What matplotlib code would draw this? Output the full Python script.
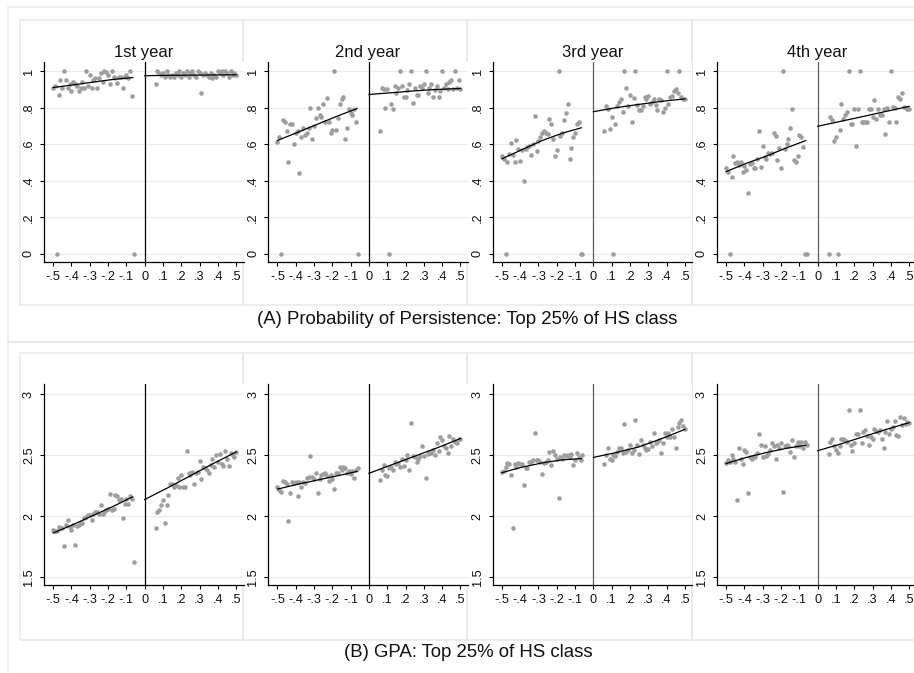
import matplotlib
matplotlib.use("Agg")
import matplotlib.pyplot as plt
from matplotlib.patches import Rectangle

plt.rcParams['font.family'] = ['Liberation Sans', 'DejaVu Sans']

# ---------------------------------------------------------------- data
# bin centres of the running variable (distance from the cutoff)
BINS_BELOW = [-0.50, -0.49, -0.48, -0.47, -0.46, -0.45, -0.44, -0.43, -0.42,
              -0.41, -0.40, -0.39, -0.38, -0.37, -0.36, -0.35, -0.34, -0.33,
              -0.32, -0.31, -0.30, -0.29, -0.28, -0.27, -0.26, -0.25, -0.24,
              -0.23, -0.22, -0.21, -0.20, -0.19, -0.18, -0.17, -0.16, -0.15,
              -0.14, -0.13, -0.12, -0.11, -0.10, -0.09, -0.08, -0.07, -0.06]
BINS_ABOVE = [0.06, 0.07, 0.08, 0.09, 0.10, 0.11, 0.12, 0.13, 0.14, 0.15,
              0.16, 0.17, 0.18, 0.19, 0.20, 0.21, 0.22, 0.23, 0.24, 0.25,
              0.26, 0.27, 0.28, 0.29, 0.30, 0.31, 0.32, 0.33, 0.34, 0.35,
              0.36, 0.37, 0.38, 0.39, 0.40, 0.41, 0.42, 0.43, 0.44, 0.45,
              0.46, 0.47, 0.48, 0.49, 0.50]

# grid on which the fitted curves are reported
FIT_X_BELOW = [-0.50, -0.39, -0.28, -0.17, -0.065]
FIT_X_ABOVE = [0.0, 0.125, 0.25, 0.375, 0.5]

YEARS = ["1st year", "2nd year", "3rd year", "4th year"]

# (A) probability of persistence, bin means
persist_y1_below = [0.91, 0.92, 0.00, 0.87, 0.95, 0.91, 1.00, 0.95, 0.91, 0.93,
                    0.89, 0.94, 0.93, 0.92, 0.89, 0.91, 0.94, 0.91, 1.00, 0.92,
                    0.98, 0.91, 0.95, 0.965, 0.905, 0.965, 0.99, 0.94, 1.00, 0.995,
                    0.98, 0.93, 1.00, 0.97, 0.96, 0.935, 0.97, 0.97, 0.91, 0.97,
                    0.98, 0.96, 1.00, 0.865, 0.00]
persist_y1_above = [0.93, 1.00, 0.99, 0.98, 0.99, 0.97, 1.00, 0.98, 0.97, 0.98,
                    0.97, 0.99, 0.98, 1.00, 0.97, 0.99, 0.98, 1.00, 0.97, 0.99,
                    1.00, 0.98, 0.97, 1.00, 0.99, 0.88, 0.98, 0.99, 0.98, 0.97,
                    0.99, 0.96, 0.98, 0.97, 1.00, 0.99, 1.00, 0.98, 1.00, 0.99,
                    0.97, 1.00, 0.98, 0.99, 0.98]
persist_y2_below = [0.61, 0.64, 0.00, 0.73, 0.72, 0.67, 0.50, 0.71, 0.71, 0.60,
                    0.66, 0.67, 0.44, 0.64, 0.69, 0.65, 0.66, 0.69, 0.80, 0.63,
                    0.70, 0.745, 0.80, 0.76, 0.75, 0.82, 0.72, 0.855, 0.72, 0.66,
                    0.68, 1.00, 0.68, 0.745, 0.82, 0.85, 0.86, 0.63, 0.69, 0.79,
                    0.77, 0.76, 0.79, 0.72, 0.00]
persist_y2_above = [0.67, 0.91, 0.90, 0.80, 0.90, 0.00, 0.82, 0.795, 0.92, 0.88,
                    0.91, 1.00, 0.92, 0.86, 0.86, 0.895, 0.93, 1.00, 0.825, 0.91,
                    0.87, 0.87, 0.92, 0.91, 0.93, 1.00, 0.88, 0.905, 0.93, 0.86,
                    0.895, 0.92, 0.86, 0.89, 1.00, 0.91, 0.93, 0.90, 0.94, 0.95,
                    0.90, 1.00, 0.91, 0.95, 0.90]
persist_y3_below = [0.535, 0.52, 0.00, 0.50, 0.545, 0.605, 0.54, 0.50, 0.625, 0.575,
                    0.51, 0.57, 0.40, 0.575, 0.585, 0.59, 0.54, 0.60, 0.755, 0.565,
                    0.615, 0.64, 0.66, 0.67, 0.66, 0.655, 0.74, 0.71, 0.63, 0.535,
                    0.57, 1.00, 0.645, 0.66, 0.735, 0.77, 0.82, 0.52, 0.58, 0.64,
                    0.66, 0.71, 0.72, 0.00, 0.00]
persist_y3_above = [0.67, 0.81, 0.795, 0.685, 0.75, 0.00, 0.71, 0.81, 0.83, 0.845,
                    0.775, 1.00, 0.905, 0.81, 0.87, 0.72, 0.855, 1.00, 0.815, 0.785,
                    0.785, 0.81, 0.86, 0.85, 0.865, 0.82, 0.83, 0.845, 0.815, 0.785,
                    0.845, 0.84, 0.775, 0.80, 1.00, 0.82, 0.86, 0.865, 0.89, 0.90,
                    0.88, 1.00, 0.86, 0.85, 0.845]
persist_y4_below = [0.467, 0.45, 0.00, 0.42, 0.535, 0.495, 0.505, 0.485, 0.50, 0.45,
                    0.48, 0.46, 0.335, 0.49, 0.495, 0.467, 0.467, 0.52, 0.67, 0.476,
                    0.59, 0.53, 0.52, 0.55, 0.545, 0.553, 0.66, 0.645, 0.515, 0.58,
                    0.467, 1.00, 0.573, 0.60, 0.63, 0.69, 0.79, 0.515, 0.50, 0.535,
                    0.65, 0.64, 0.585, 0.00, 0.00]
persist_y4_above = [0.00, 0.75, 0.73, 0.62, 0.64, 0.00, 0.676, 0.82, 0.74, 0.76,
                    0.776, 1.00, 0.713, 0.713, 0.79, 0.59, 0.79, 1.00, 0.72, 0.72,
                    0.72, 0.72, 0.795, 0.795, 0.75, 0.84, 0.74, 0.795, 0.76, 0.76,
                    0.79, 0.655, 0.80, 0.72, 1.00, 0.805, 0.80, 0.72, 0.86, 0.85,
                    0.88, 0.805, 0.80, 0.795, 0.79]

# (B) GPA, bin means
gpa_y1_below = [1.885, 1.88, 1.88, 1.91, 1.90, 1.90, 1.75, 1.93, 1.965, 1.91,
                1.885, 1.925, 1.76, 1.915, 1.93, 1.94, 1.94, 1.98, 1.99, 2.005,
                2.005, 1.965, 2.02, 2.035, 2.03, 2.02, 2.09, 2.02, 2.035, 2.05,
                2.06, 2.18, 2.05, 2.06, 2.17, 2.16, 2.13, 2.14, 1.98, 2.10,
                2.14, 2.10, 2.16, 2.14, 1.62]
gpa_y1_above = [1.90, 2.035, 2.05, 2.09, 2.13, 1.94, 2.09, 2.17, 2.265, 2.265,
                2.24, 2.25, 2.31, 2.24, 2.335, 2.24, 2.24, 2.53, 2.35, 2.335,
                2.36, 2.265, 2.35, 2.36, 2.45, 2.30, 2.40, 2.39, 2.375, 2.35,
                2.415, 2.47, 2.40, 2.50, 2.445, 2.51, 2.43, 2.41, 2.535, 2.47,
                2.41, 2.52, 2.50, 2.48, 2.525]
gpa_y2_below = [2.24, 2.21, 2.20, 2.29, 2.28, 2.26, 1.96, 2.19, 2.28, 2.27,
                2.28, 2.16, 2.28, 2.24, 2.28, 2.27, 2.31, 2.32, 2.49, 2.32,
                2.30, 2.355, 2.19, 2.30, 2.335, 2.345, 2.35, 2.33, 2.29, 2.335,
                2.30, 2.22, 2.35, 2.355, 2.40, 2.375, 2.40, 2.39, 2.35, 2.365,
                2.345, 2.37, 2.31, 2.375, 2.39]
gpa_y2_above = [2.295, 2.375, 2.415, 2.335, 2.33, 2.39, 2.40, 2.38, 2.445, 2.43,
                2.435, 2.405, 2.47, 2.41, 2.46, 2.50, 2.375, 2.76, 2.49, 2.485,
                2.445, 2.47, 2.49, 2.57, 2.49, 2.31, 2.51, 2.52, 2.515, 2.54,
                2.50, 2.60, 2.535, 2.65, 2.62, 2.57, 2.555, 2.515, 2.655, 2.57,
                2.63, 2.61, 2.60, 2.635, 2.635]
gpa_y3_below = [2.36, 2.37, 2.40, 2.435, 2.425, 2.335, 1.90, 2.43, 2.40, 2.435,
                2.43, 2.43, 2.25, 2.39, 2.39, 2.445, 2.445, 2.46, 2.68, 2.46,
                2.455, 2.445, 2.345, 2.435, 2.445, 2.455, 2.525, 2.415, 2.535, 2.50,
                2.47, 2.15, 2.485, 2.47, 2.50, 2.49, 2.50, 2.485, 2.51, 2.415,
                2.46, 2.52, 2.485, 2.46, 2.50]
gpa_y3_above = [2.43, 2.50, 2.555, 2.47, 2.455, 2.50, 2.49, 2.525, 2.555, 2.56,
                2.52, 2.75, 2.525, 2.54, 2.58, 2.52, 2.54, 2.785, 2.58, 2.51,
                2.62, 2.58, 2.56, 2.54, 2.545, 2.61, 2.575, 2.68, 2.595, 2.61,
                2.62, 2.52, 2.60, 2.68, 2.65, 2.68, 2.645, 2.71, 2.645, 2.56,
                2.73, 2.76, 2.785, 2.74, 2.71]
gpa_y4_below = [2.435, 2.46, 2.44, 2.50, 2.47, 2.445, 2.13, 2.56, 2.465, 2.43,
                2.54, 2.525, 2.19, 2.485, 2.47, 2.49, 2.485, 2.52, 2.67, 2.58,
                2.485, 2.57, 2.49, 2.51, 2.54, 2.60, 2.575, 2.465, 2.58, 2.555,
                2.60, 2.20, 2.57, 2.58, 2.57, 2.525, 2.62, 2.485, 2.57, 2.61,
                2.57, 2.61, 2.56, 2.61, 2.58]
gpa_y4_above = [2.51, 2.61, 2.63, 2.57, 2.54, 2.515, 2.57, 2.635, 2.635, 2.62,
                2.61, 2.865, 2.58, 2.535, 2.60, 2.67, 2.675, 2.87, 2.60, 2.69,
                2.705, 2.655, 2.58, 2.65, 2.635, 2.71, 2.70, 2.69, 2.705, 2.635,
                2.56, 2.69, 2.78, 2.675, 2.71, 2.73, 2.775, 2.665, 2.655, 2.81,
                2.745, 2.80, 2.75, 2.77, 2.765]

# fitted curves on each side of the cutoff
fit_persist_below = [[0.91, 0.925, 0.94, 0.955, 0.965],
                     [0.62, 0.665, 0.71, 0.755, 0.795],
                     [0.52, 0.57, 0.62, 0.66, 0.69],
                     [0.45, 0.495, 0.535, 0.58, 0.62]]
fit_persist_above = [[0.975, 0.977, 0.978, 0.979, 0.98],
                     [0.872, 0.882, 0.892, 0.90, 0.905],
                     [0.778, 0.80, 0.818, 0.835, 0.848],
                     [0.698, 0.725, 0.752, 0.78, 0.807]]
fit_gpa_below = [[1.86, 1.93, 2.005, 2.08, 2.157],
                 [2.22, 2.26, 2.295, 2.33, 2.365],
                 [2.355, 2.40, 2.435, 2.46, 2.47],
                 [2.43, 2.48, 2.52, 2.555, 2.58]]
fit_gpa_above = [[2.135, 2.23, 2.33, 2.43, 2.525],
                 [2.35, 2.42, 2.49, 2.56, 2.635],
                 [2.48, 2.52, 2.567, 2.635, 2.71],
                 [2.535, 2.59, 2.65, 2.71, 2.765]]

X_TICKS = [-0.5, -0.4, -0.3, -0.2, -0.1, 0.0, 0.1, 0.2, 0.3, 0.4, 0.5]
X_TICKLABELS = ["-.5", "-.4", "-.3", "-.2", "-.1", "0", ".1", ".2", ".3", ".4", ".5"]
PERSIST_TICKS = [0, 0.2, 0.4, 0.6, 0.8, 1.0]
PERSIST_TICKLABELS = ["0", ".2", ".4", ".6", ".8", "1"]
GPA_TICKS = [1.5, 2.0, 2.5, 3.0]
GPA_TICKLABELS = ["1.5", "2", "2.5", "3"]

CAPTION_A = "(A) Probability of Persistence: Top 25% of HS class"
CAPTION_B = "(B) GPA: Top 25% of HS class"

persist_below = [persist_y1_below, persist_y2_below, persist_y3_below, persist_y4_below]
persist_above = [persist_y1_above, persist_y2_above, persist_y3_above, persist_y4_above]
gpa_below = [gpa_y1_below, gpa_y2_below, gpa_y3_below, gpa_y4_below]
gpa_above = [gpa_y1_above, gpa_y2_above, gpa_y3_above, gpa_y4_above]

# ---------------------------------------------------------------- layout
W, H = 914, 673
fig = plt.figure(figsize=(W / 100, H / 100), dpi=100)
fig.patch.set_facecolor("white")

FRAME = "#e3ebef"
MARKER = "#9e9e9e"
CUT_COLORS = ["black", "black", "#5c5c5c", "#5c5c5c"]


def box(x0, y0, x1, y1):
    """Light outline given in pixel coordinates (origin top-left)."""
    fig.add_artist(Rectangle((x0 / W, 1 - y1 / H), (x1 - x0) / W, (y1 - y0) / H,
                             transform=fig.transFigure, fill=False,
                             ec=FRAME, lw=1.1, zorder=0))


# outer frames of the two blocks and the individual panel frames
box(8, 7, 940, 342)
box(8, 342, 940, 700)
panel_edges = [20, 242.5, 467, 692, 916]
for i in range(4):
    box(panel_edges[i], 20, panel_edges[i + 1], 305)
    box(panel_edges[i], 353, panel_edges[i + 1], 640)

AX_LEFT = [44, 268.3, 492.7, 717]
AX_W = 199.5


def make_axes(i, top, bottom):
    return fig.add_axes([AX_LEFT[i] / W, 1 - bottom / H, AX_W / W, (bottom - top) / H])


def style(ax, yticks, ylabels, ylim, cut_color):
    ax.set_xlim(-0.55, 0.54)
    ax.set_ylim(*ylim)
    ax.set_xticks(X_TICKS)
    ax.set_xticklabels(X_TICKLABELS)
    ax.set_yticks(yticks)
    ax.set_yticklabels(ylabels, rotation=90, va="center")
    for s in ("top", "right"):
        ax.spines[s].set_visible(False)
    for s in ("left", "bottom"):
        ax.spines[s].set_linewidth(0.9)
        ax.spines[s].set_color("black")
    ax.tick_params(direction="out", length=3, width=0.8, labelsize=9.2,
                   pad=3.5, colors="black", labelcolor="#111111")
    ax.grid(axis="y", color="#e4eef0", lw=0.9)
    ax.set_axisbelow(True)
    ax.axvline(0, color=cut_color, lw=0.9, zorder=2)


for i in range(4):
    # top block: persistence
    ax = make_axes(i, 62, 262)
    style(ax, PERSIST_TICKS, PERSIST_TICKLABELS, (-0.045, 1.05), CUT_COLORS[i])
    ax.plot(BINS_BELOW, persist_below[i], "o", ms=3.3, color=MARKER, mew=0, zorder=3)
    ax.plot(BINS_ABOVE, persist_above[i], "o", ms=3.3, color=MARKER, mew=0, zorder=3)
    ax.plot(FIT_X_BELOW, fit_persist_below[i], color="black", lw=0.9, zorder=4)
    ax.plot(FIT_X_ABOVE, fit_persist_above[i], color="black", lw=0.9, zorder=4)
    ax.text(0.5, 1 + 5.3 / 200, YEARS[i], transform=ax.transAxes,
            ha="center", va="baseline", fontsize=12, color="#111111")

    # bottom block: GPA
    ax = make_axes(i, 384, 585)
    style(ax, GPA_TICKS, GPA_TICKLABELS, (1.434, 3.082), CUT_COLORS[i])
    ax.plot(BINS_BELOW, gpa_below[i], "o", ms=3.3, color=MARKER, mew=0, zorder=3)
    ax.plot(BINS_ABOVE, gpa_above[i], "o", ms=3.3, color=MARKER, mew=0, zorder=3)
    ax.plot(FIT_X_BELOW, fit_gpa_below[i], color="black", lw=0.9, zorder=4)
    ax.plot(FIT_X_ABOVE, fit_gpa_above[i], color="black", lw=0.9, zorder=4)

fig.text(467.5 / W, 1 - 324.3 / H, CAPTION_A, ha="center", va="baseline",
         fontsize=13.4, color="#111111")
fig.text(468 / W, 1 - 657.3 / H, CAPTION_B, ha="center", va="baseline",
         fontsize=13.4, color="#111111")

fig.savefig("out.png", dpi=100, facecolor="white")
